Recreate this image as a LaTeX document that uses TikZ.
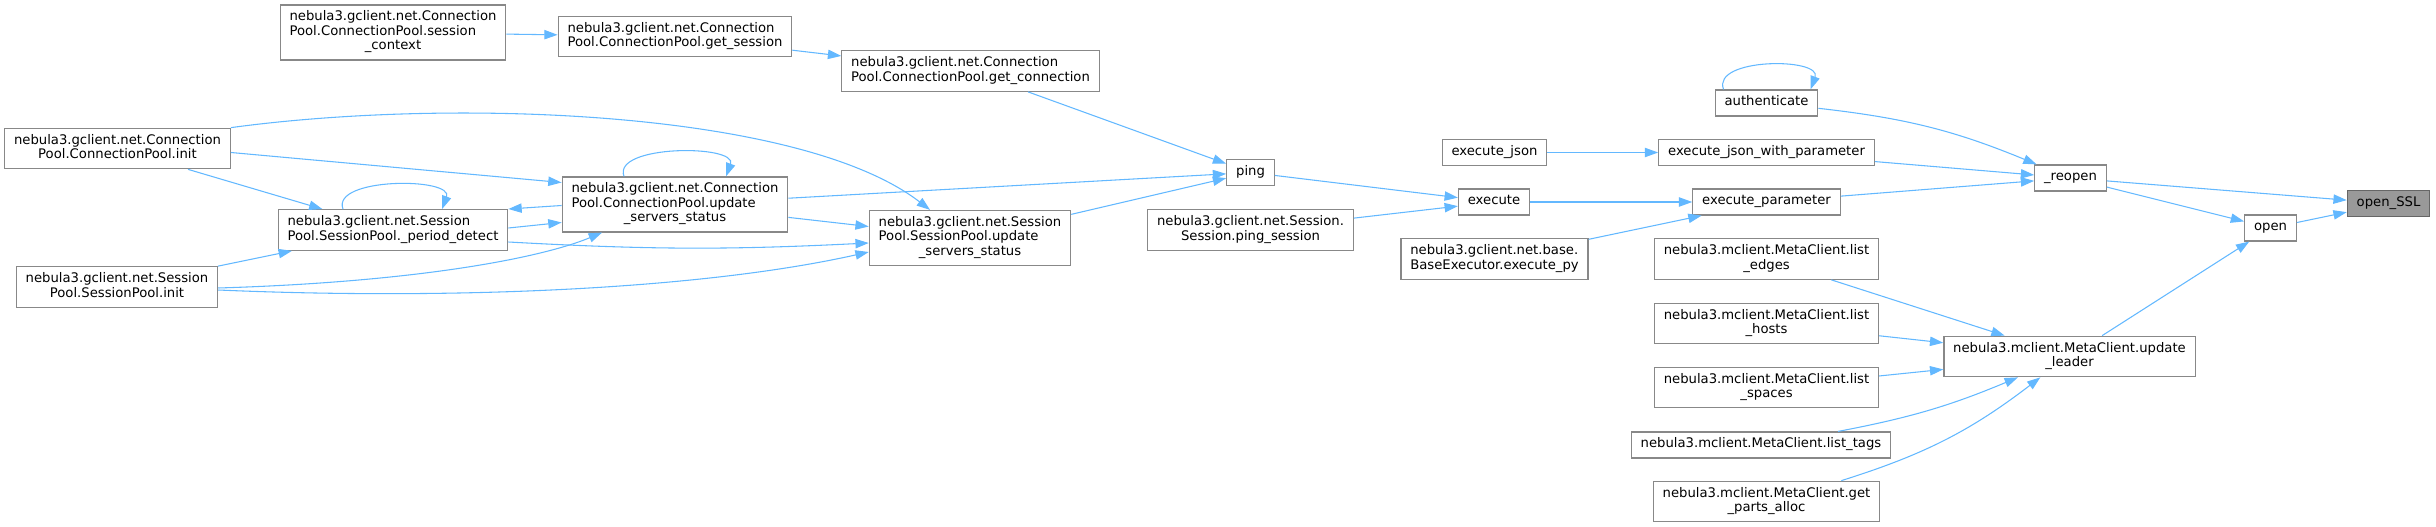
\documentclass[tikz,border=0pt]{standalone}
\usepackage{fontspec}
\setmainfont{DejaVu Sans}
\usetikzlibrary{arrows.meta,calc}
\definecolor{edgeblue}{HTML}{63B8FF}
\definecolor{boxline}{HTML}{888888}
\definecolor{hilite}{HTML}{999999}
\definecolor{hiline}{HTML}{666666}

% all lines but the last left, the last one centred
\newcommand{\twol}[2]{\begin{tabular}{@{}l@{}}#1\\\multicolumn{1}{@{}c@{}}{#2}\end{tabular}}
\newcommand{\threel}[3]{\begin{tabular}{@{}l@{}}#1\\#2\\\multicolumn{1}{@{}c@{}}{#3}\end{tabular}}

\tikzset{
  fn/.style={draw=boxline, line width=0.9pt, fill=white, inner xsep=7pt, inner ysep=4.3pt,
    font=\fontsize{9.9}{10.9}\selectfont, execute at begin node=\strut},
  cur/.style={fn, fill=hilite, draw=hiline},
  call/.style={draw=edgeblue, line width=0.8pt, -{Triangle[length=10pt,width=7pt]}}
}

\begin{document}
\begin{tikzpicture}[x=0.75pt, y=-0.75pt]
  \useasboundingbox (0,0) rectangle (2436,527);

  \node[fn] (sctx) at (393,32.5) {\threel{nebula3.gclient.net.Connection}{Pool.ConnectionPool.session}{\_context}};
  \node[fn] (gsess) at (675,36.5) {\twol{nebula3.gclient.net.Connection}{Pool.ConnectionPool.get\_session}};
  \node[fn] (gconn) at (970.5,71) {\twol{nebula3.gclient.net.Connection}{Pool.ConnectionPool.get\_connection}};
  \node[fn] (cpinit) at (117.5,148.5) {\twol{nebula3.gclient.net.Connection}{Pool.ConnectionPool.init}};
  \node[fn] (cpupd) at (675,204.5) {\threel{nebula3.gclient.net.Connection}{Pool.ConnectionPool.update}{\_servers\_status}};
  \node[fn] (pdet) at (393,230) {\twol{nebula3.gclient.net.Session}{Pool.SessionPool.\_period\_detect}};
  \node[fn] (spinit) at (117,287) {\twol{nebula3.gclient.net.Session}{Pool.SessionPool.init}};
  \node[fn] (spupd) at (970,238) {\threel{nebula3.gclient.net.Session}{Pool.SessionPool.update}{\_servers\_status}};

  \node[fn] (ping) at (1250.5,172.5) {ping};
  \node[fn] (psess) at (1250.5,230) {\twol{nebula3.gclient.net.Session.}{Session.ping\_session}};

  \node[fn] (exjson) at (1494.5,152.5) {execute\_json};
  \node[fn] (exec) at (1494,202) {execute};
  \node[fn] (expy) at (1494.5,259) {\twol{nebula3.gclient.net.base.}{BaseExecutor.execute\_py}};

  \node[fn] (auth) at (1766.5,103) {authenticate};
  \node[fn] (exjwp) at (1766.5,152.5) {execute\_json\_with\_parameter};
  \node[fn] (expar) at (1766.5,202) {execute\_parameter};
  \node[fn] (ledges) at (1766.5,259) {\twol{nebula3.mclient.MetaClient.list}{\_edges}};
  \node[fn] (lhosts) at (1766.5,323.5) {\twol{nebula3.mclient.MetaClient.list}{\_hosts}};
  \node[fn] (lspaces) at (1766.5,387.5) {\twol{nebula3.mclient.MetaClient.list}{\_spaces}};
  \node[fn] (ltags) at (1761,445) {nebula3.mclient.MetaClient.list\_tags};
  \node[fn] (gparts) at (1766.5,501.5) {\twol{nebula3.mclient.MetaClient.get}{\_parts\_alloc}};

  \node[fn] (reopen) at (2070.5,178) {\_reopen};
  \node[fn] (updl) at (2069.5,356.5) {\twol{nebula3.mclient.MetaClient.update}{\_leader}};
  \node[fn] (open) at (2270.5,228) {open};
  \node[cur] (ossl) at (2388.5,203.5) {open\_SSL};

  \begin{scope}[call]
    % connection / session pool part
    \draw (sctx) -- (gsess);
    \draw (gsess) -- (gconn);
    \draw (gconn) -- (ping);
    \draw (cpinit.north east) .. controls +(220,-30) and +(-130,-100) .. ($(spupd.north)+(-40,0)$);
    \draw ($(cpinit.east)+(0,4)$) -- ($(cpupd.west)+(0,-22)$);
    \draw (cpinit) -- (pdet);
    \draw ($(cpupd.west)+(0,1)$) -- ($(pdet.east)+(0,-21)$);
    \draw ($(pdet.east)+(0,-2)$) -- ($(cpupd.west)+(0,18)$);
    \draw ($(pdet.east)+(0,12)$) to[bend right=3] ($(spupd.west)+(0,5)$);
    \draw (cpupd) -- (spupd);
    \draw (spinit) -- (pdet);
    \draw ($(spinit.east)+(0,1)$) .. controls +(200,-6) and +(-60,25) .. ($(cpupd.south)+(-73,0)$);
    \draw ($(spinit.east)+(0,3)$) .. controls +(230,10) and +(-170,38) .. ($(spupd.west)+(0,14)$);
    \draw ($(cpupd.north)+(-51,0)$) .. controls +(-12,-32) and +(12,-32) .. ($(cpupd.north)+(51,0)$);
    \draw ($(pdet.north)+(-50,0)$) .. controls +(-12,-32) and +(12,-32) .. ($(pdet.north)+(49,0)$);
    \draw (cpupd) -- (ping);
    \draw (spupd) -- (ping);

    % execute part
    \draw (ping) -- (exec);
    \draw (psess) -- (exec);
    \draw (exec) -- (expar);
    \draw (expy) -- (expar);
    \draw (exjson) -- (exjwp);
    \draw ($(auth.north)+(-43,0)$) .. controls +(-12,-32) and +(12,-32) .. ($(auth.north)+(44,0)$);
    \draw (auth) to[bend left=8] (reopen);
    \draw (exjwp) -- (reopen);
    \draw (expar) -- (reopen);

    % meta client part
    \draw (ledges) -- (updl);
    \draw (lhosts) -- (updl);
    \draw (lspaces) -- (updl);
    \draw (ltags) to[bend right=6] (updl);
    \draw (gparts) to[bend right=10] (updl);

    \draw (reopen) -- (ossl);
    \draw (reopen) -- (open);
    \draw (updl) -- (open);
    \draw (open) -- (ossl);
  \end{scope}
\end{tikzpicture}
\end{document}
